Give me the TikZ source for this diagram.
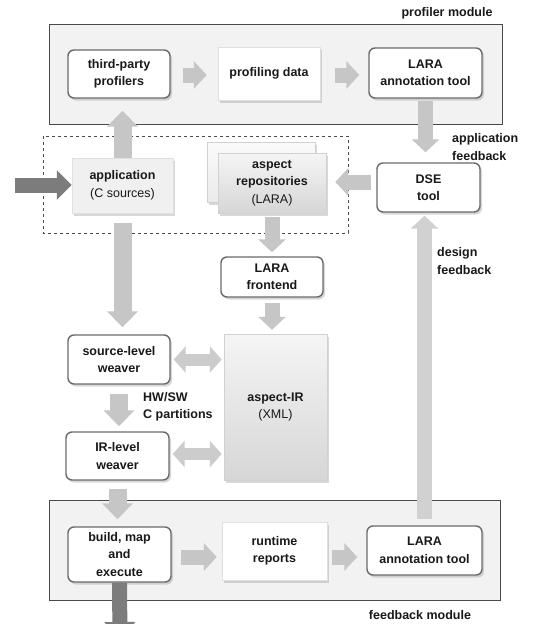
\documentclass[tikz,border=0pt]{standalone}
\usepackage{fontspec}
\setmainfont{Liberation Sans}
\usetikzlibrary{arrows.meta,shadows,calc}
\definecolor{arrowgray}{HTML}{C6C6C6}
\definecolor{darkarrow}{HTML}{7C7C7C}
\definecolor{boxborder}{HTML}{6A6A6A}
\definecolor{modfill}{HTML}{F2F2F2}
\definecolor{modborder}{HTML}{4A4A4A}
\begin{document}
\begin{tikzpicture}[x=1pt,y=-1pt,
  every node/.style={font=\bfseries\fontsize{12.5}{17.5}\selectfont, text=black!90},
  shad/.style={drop shadow={opacity=0.3, shadow xshift=2pt, shadow yshift=-2.5pt}},
  rbox/.style={draw=boxborder, line width=1.4pt, rounded corners=6pt, fill=white, align=center, inner sep=1pt, shad},
  sbox/.style={draw=black!12, line width=0.5pt, fill=white, align=center, inner sep=1pt, shad},
  gbox/.style={draw=black!18, line width=0.5pt, top color=black!4, bottom color=black!16, align=center, inner sep=1pt, shad},
  lbox/.style={draw=black!12, line width=0.5pt, fill=black!6, align=center, inner sep=1pt, shad},
  modbox/.style={draw=modborder, line width=0.8pt, fill=modfill, inner sep=0pt},
  lbl/.style={align=left, inner sep=0pt, anchor=west},
  fat/.style={draw=arrowgray, line width=15pt, -{Triangle[width=27pt,length=13pt]}},
  fatv/.style={draw=arrowgray, line width=18pt, -{Triangle[width=30pt,length=16pt]}},
  dbl/.style={draw=black!20, line width=12pt, {Triangle[width=26pt,length=12pt]}-{Triangle[width=26pt,length=12pt]}},
  dark/.style={draw=darkarrow, line width=15pt, -{Triangle[width=29pt,length=15pt]}}
]
\useasboundingbox (0,0) rectangle (552,624);
\fill[white] (0,0) rectangle (552,624);

% modules
\node[modbox, minimum width=453pt, minimum height=100pt] (pm) at (275.5,74) {};
\node[modbox, minimum width=451pt, minimum height=100pt] (fm) at (274.5,550) {};
\node[inner sep=0pt] (pmlbl) at (447,13) {profiler module};
\node[inner sep=0pt] (fmlbl) at (420,615) {feedback module};

% dashed box
\draw[dashed, black!70, line width=0.7pt] (43,136) rectangle (348,233);

% profiler module content
\node[rbox, minimum width=102pt, minimum height=48pt] (tpp) at (119,74) {third-party\\profilers};
\node[sbox, minimum width=102pt, minimum height=53pt] (pdata) at (269,73.5) {profiling data};
\node[rbox, minimum width=113pt, minimum height=50pt] (lara1) at (425.5,73) {LARA\\annotation tool};

% middle
\node[lbox, minimum width=101pt, minimum height=55pt] (app) at (122.5,185.5) {application\\\mdseries(C sources)};
\node[gbox, minimum width=108pt, minimum height=60pt, top color=black!2, bottom color=black!8] (aspb) at (261,172) {};
\node[gbox, minimum width=108pt, minimum height=60pt] (asp) at (272,183) {aspect\\repositories\\\mdseries(LARA)};
\node[rbox, minimum width=103pt, minimum height=49pt] (dse) at (428.5,187.5) {DSE\\tool};

\node[rbox, minimum width=102pt, minimum height=40pt] (larafe) at (272,277) {LARA\\frontend};
\node[gbox, minimum width=103pt, minimum height=146pt] (air) at (275.5,407) {aspect-IR\\\mdseries(XML)};
\node[rbox, minimum width=102pt, minimum height=49pt] (slw) at (119,359.5) {source-level\\weaver};
\node[rbox, minimum width=103pt, minimum height=48pt] (irw) at (117.5,456) {IR-level\\weaver};

% feedback module content
\node[rbox, minimum width=103pt, minimum height=55pt] (bme) at (119.5,554.5) {build, map\\and\\execute};
\node[sbox, minimum width=105pt, minimum height=58pt] (rr) at (274.5,551) {runtime\\reports};
\node[rbox, minimum width=115pt, minimum height=49pt] (lara2) at (424.5,550.5) {LARA\\annotation tool};

% labels
\node[lbl] (appfb) at (452,147) {application\\feedback};
\node[lbl] (desfb) at (437,261) {design\\feedback};
\node[lbl] (hwsw) at (143,407) {HW/SW\\C partitions};

% coordinates for free ends
\coordinate (inp) at (15,185);
\coordinate (outp) at (120,640);

% arrows
\draw[fat, shorten <=12pt, shorten >=11pt] (tpp.east |- 0,75) -- (pdata.west |- 0,75);
\draw[fat, shorten <=15pt, shorten >=9pt] (pdata.east |- 0,75) -- (lara1.west |- 0,75);
\draw[fat, shorten <=2pt, shorten >=10pt] (lara1.south) -- (lara1.south |- dse.north);
\draw[fatv, shorten >=12pt] (app.north) -- (app.north |- tpp.south);
\draw[dark] (inp) -- (app.west |- inp);
\draw[fat, shorten <=5pt, shorten >=9pt] (dse.west |- 0,182) -- (asp.east |- 0,182);
\draw[fatv, shorten <=10pt, shorten >=7pt] (app.south) -- (app.south |- slw.north);
\draw[fat, shorten <=4pt, shorten >=4pt] (asp.south) -- (asp.south |- larafe.north);
\draw[fat, shorten <=5pt, shorten >=4pt] (larafe.south) -- (larafe.south |- air.north);
\draw[dbl, shorten <=3pt, shorten >=2pt] (slw.east) -- (slw.east -| air.west);
\draw[fatv, shorten <=9pt, shorten >=5pt] (slw.south) -- (slw.south |- irw.north);
\draw[dbl, shorten <=3pt, shorten >=2pt] (irw.east |- 0,454) -- (air.west |- 0,454);
\draw[fatv, shorten <=8pt, shorten >=7pt] (irw.south) -- (irw.south |- bme.north);
\draw[fat, shorten <=9pt, shorten >=5pt] (bme.east |- 0,557) -- (rr.west |- 0,557);
\draw[fat, shorten <=5pt, shorten >=9pt] (rr.east |- 0,557) -- (lara2.west |- 0,557);
\draw[fat, draw=black!18, shorten <=6pt, shorten >=3pt] (lara2.north) -- (lara2.north |- dse.south);
\draw[dark, -{Triangle[width=30pt,length=18pt]}] (bme.south) -- (outp);
\end{tikzpicture}
\end{document}
